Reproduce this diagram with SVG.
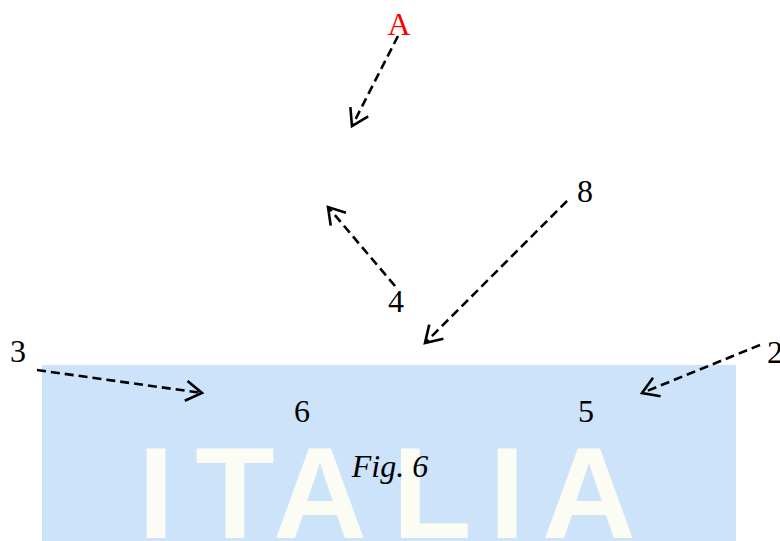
<svg xmlns="http://www.w3.org/2000/svg" width="780" height="541" viewBox="0 0 780 541">
<style>
.lbl{font-family:"Liberation Serif","Times New Roman",serif;font-size:32px;fill:#000;text-anchor:middle}
.wm{font-family:"Liberation Sans",Arial,sans-serif;font-size:130px;font-weight:bold;fill:#fbfcf4;text-anchor:middle}
.conn{fill:none;stroke:#000;stroke-width:2.6;stroke-dasharray:9 5}
</style>
<defs>
<marker id="arr" markerUnits="userSpaceOnUse" markerWidth="30" markerHeight="30" refX="20" refY="12" orient="auto" overflow="visible">
<path d="M4,2 L20,12 L4,22" fill="none" stroke="#000" stroke-width="2.6" stroke-dasharray="none"/>
</marker>
</defs>
<rect width="780" height="541" fill="#fff"/>
<g id="watermark">
<rect x="42" y="365" width="694" height="176" fill="#cde3f9"/>
<text class="wm" x="156" y="538">I</text>
<text class="wm" x="235" y="538">T</text>
<text class="wm" x="320" y="538">A</text>
<text class="wm" x="432" y="538">L</text>
<text class="wm" x="507" y="538">I</text>
<text class="wm" x="589" y="538">A</text>
</g>
<g id="connectors">
<line class="conn" x1="398" y1="36" x2="352" y2="126" marker-end="url(#arr)"/>
<line class="conn" x1="395" y1="286" x2="328" y2="207" marker-end="url(#arr)"/>
<line class="conn" x1="567" y1="201" x2="425" y2="343" marker-end="url(#arr)"/>
<line class="conn" x1="37" y1="370" x2="202" y2="393" marker-end="url(#arr)"/>
<line class="conn" x1="760" y1="345" x2="642" y2="393" marker-end="url(#arr)"/>
</g>
<g id="node-A"><text class="lbl" x="399" y="35" style="fill:#f00">A</text></g>
<g id="node-8"><text class="lbl" x="585" y="202">8</text></g>
<g id="node-4"><text class="lbl" x="396" y="312">4</text></g>
<g id="node-3"><text class="lbl" x="18" y="362">3</text></g>
<g id="node-2"><text class="lbl" x="775" y="363">2</text></g>
<g id="node-6"><text class="lbl" x="302" y="422">6</text></g>
<g id="node-5"><text class="lbl" x="586" y="422">5</text></g>
<g id="caption"><text class="lbl" x="390" y="477" font-style="italic">Fig. 6</text></g>
</svg>
